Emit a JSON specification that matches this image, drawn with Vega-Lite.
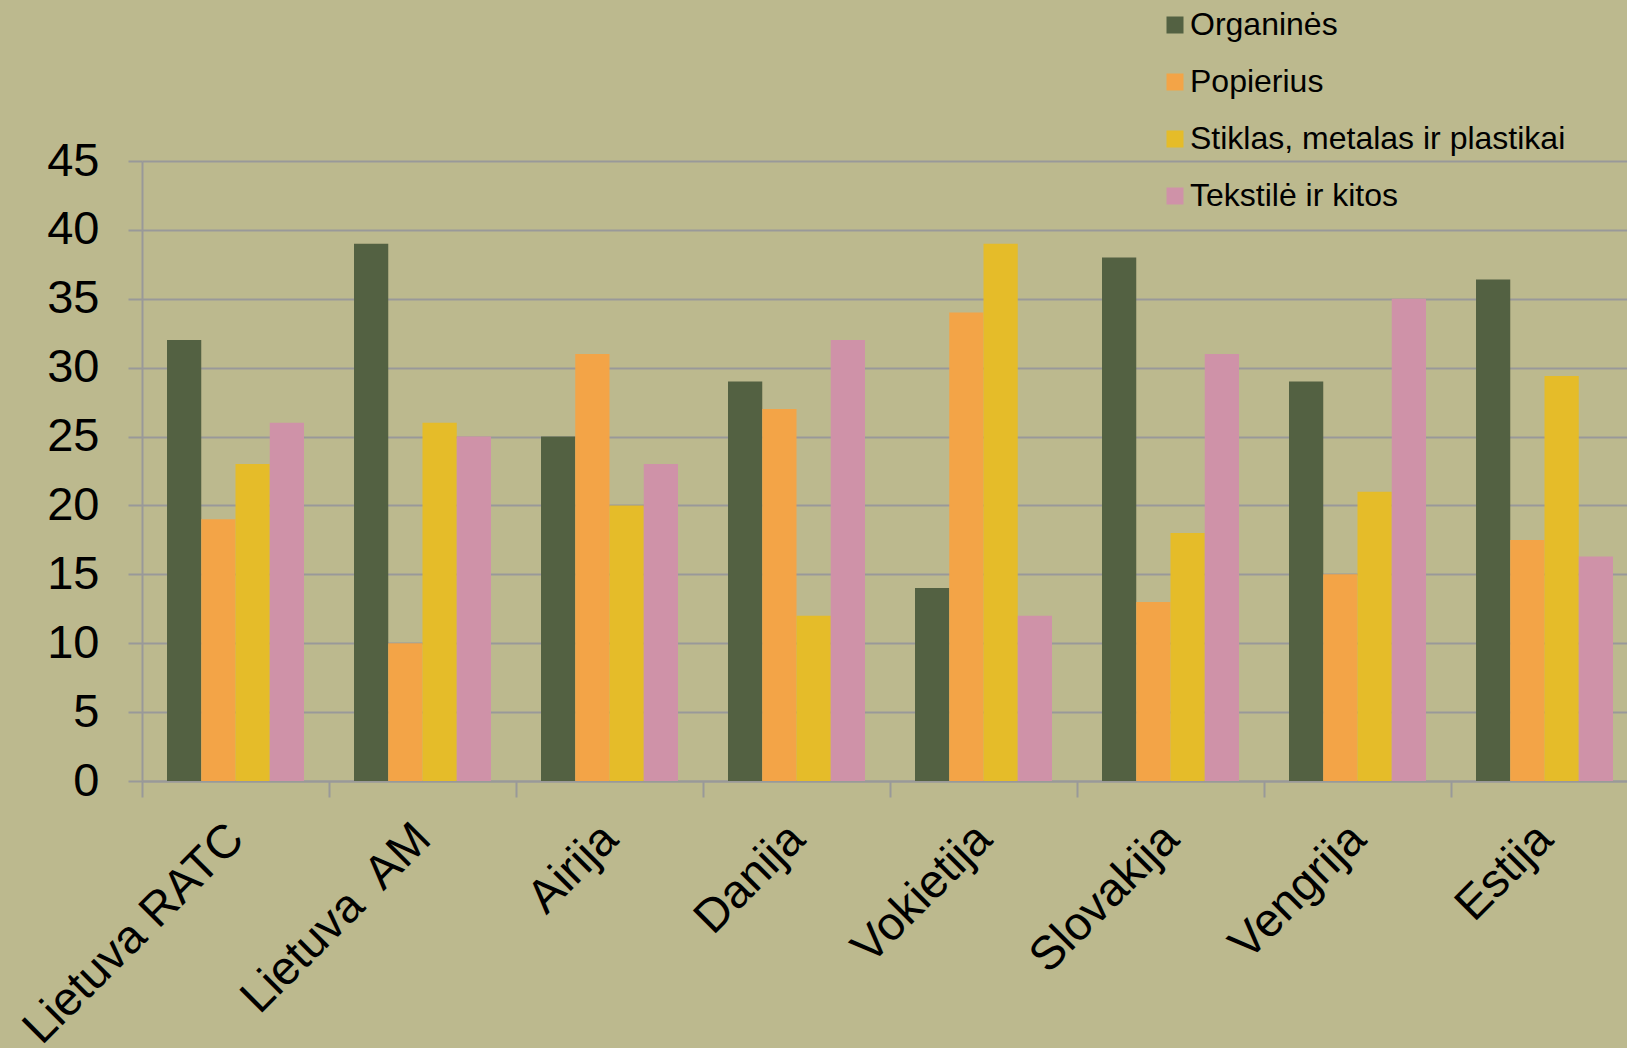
{
  "$schema": "https://vega.github.io/schema/vega-lite/v6.json",
  "width": 1485,
  "height": 620,
  "autosize": {"type": "none"},
  "padding": {"left": 142, "top": 161, "right": 0, "bottom": 267},
  "background": "#bcb98e",
  "config": {
    "view": {"stroke": null},
    "font": "Liberation Sans",
    "axis": {"labelFont": "Liberation Sans", "labelColor": "#000000"},
    "legend": {"labelFont": "Liberation Sans"}
  },
  "data": {
    "values": [
      {"country": "Lietuva RATC", "category": "Organinės", "value": 32},
      {"country": "Lietuva RATC", "category": "Popierius", "value": 19},
      {"country": "Lietuva RATC", "category": "Stiklas, metalas ir plastikai", "value": 23},
      {"country": "Lietuva RATC", "category": "Tekstilė ir kitos", "value": 26},
      {"country": "Lietuva\u00a0 AM", "category": "Organinės", "value": 39},
      {"country": "Lietuva\u00a0 AM", "category": "Popierius", "value": 10},
      {"country": "Lietuva\u00a0 AM", "category": "Stiklas, metalas ir plastikai", "value": 26},
      {"country": "Lietuva\u00a0 AM", "category": "Tekstilė ir kitos", "value": 25},
      {"country": "Airija", "category": "Organinės", "value": 25},
      {"country": "Airija", "category": "Popierius", "value": 31},
      {"country": "Airija", "category": "Stiklas, metalas ir plastikai", "value": 20},
      {"country": "Airija", "category": "Tekstilė ir kitos", "value": 23},
      {"country": "Danija", "category": "Organinės", "value": 29},
      {"country": "Danija", "category": "Popierius", "value": 27},
      {"country": "Danija", "category": "Stiklas, metalas ir plastikai", "value": 12},
      {"country": "Danija", "category": "Tekstilė ir kitos", "value": 32},
      {"country": "Vokietija", "category": "Organinės", "value": 14},
      {"country": "Vokietija", "category": "Popierius", "value": 34},
      {"country": "Vokietija", "category": "Stiklas, metalas ir plastikai", "value": 39},
      {"country": "Vokietija", "category": "Tekstilė ir kitos", "value": 12},
      {"country": "Slovakija", "category": "Organinės", "value": 38},
      {"country": "Slovakija", "category": "Popierius", "value": 13},
      {"country": "Slovakija", "category": "Stiklas, metalas ir plastikai", "value": 18},
      {"country": "Slovakija", "category": "Tekstilė ir kitos", "value": 31},
      {"country": "Vengrija", "category": "Organinės", "value": 29},
      {"country": "Vengrija", "category": "Popierius", "value": 15},
      {"country": "Vengrija", "category": "Stiklas, metalas ir plastikai", "value": 21},
      {"country": "Vengrija", "category": "Tekstilė ir kitos", "value": 35},
      {"country": "Estija", "category": "Organinės", "value": 36.4},
      {"country": "Estija", "category": "Popierius", "value": 17.5},
      {"country": "Estija", "category": "Stiklas, metalas ir plastikai", "value": 29.4},
      {"country": "Estija", "category": "Tekstilė ir kitos", "value": 16.3}
    ]
  },
  "mark": {"type": "bar", "strokeWidth": 0},
  "encoding": {
    "x": {
      "field": "country",
      "type": "nominal",
      "sort": null,
      "scale": {"paddingInner": 0, "paddingOuter": 0, "range": [0, 1496]},
      "axis": {
        "title": null,
        "labelAngle": -45,
        "labelFontSize": 47,
        "labelPadding": 18,
        "labelOffset": -16,
        "labelLimit": 0,
        "labelBound": false,
        "labelOverlap": false,
        "tickBand": "extent",
        "tickSize": 16,
        "tickColor": "#999999",
        "tickWidth": 2,
        "domainColor": "#999999",
        "domainWidth": 2,
        "grid": false
      }
    },
    "xOffset": {
      "field": "category",
      "type": "nominal",
      "sort": ["Organinės", "Popierius", "Stiklas, metalas ir plastikai", "Tekstilė ir kitos"],
      "scale": {"paddingInner": 0, "paddingOuter": 0.73}
    },
    "y": {
      "field": "value",
      "type": "quantitative",
      "scale": {"domain": [0, 45], "nice": false},
      "axis": {
        "title": null,
        "values": [0, 5, 10, 15, 20, 25, 30, 35, 40, 45],
        "labelFontSize": 47,
        "labelPadding": 29,
        "tickSize": 14,
        "tickColor": "#999999",
        "tickWidth": 2,
        "domainColor": "#999999",
        "domainWidth": 2,
        "grid": true,
        "gridColor": "#999999",
        "gridWidth": 2
      }
    },
    "color": {
      "field": "category",
      "type": "nominal",
      "scale": {
        "domain": ["Organinės", "Popierius", "Stiklas, metalas ir plastikai", "Tekstilė ir kitos"],
        "range": ["#536142", "#f3a447", "#e5bc29", "#cf92a8"]
      },
      "legend": {
        "title": null,
        "orient": "none",
        "legendX": 1017,
        "legendY": -152,
        "direction": "vertical",
        "symbolType": "square",
        "symbolSize": 289,
        "symbolStrokeWidth": 0,
        "labelFontSize": 32,
        "labelColor": "#000000",
        "labelOffset": -1,
        "labelLimit": 0,
        "rowPadding": 25,
        "padding": 0
      }
    }
  }
}
